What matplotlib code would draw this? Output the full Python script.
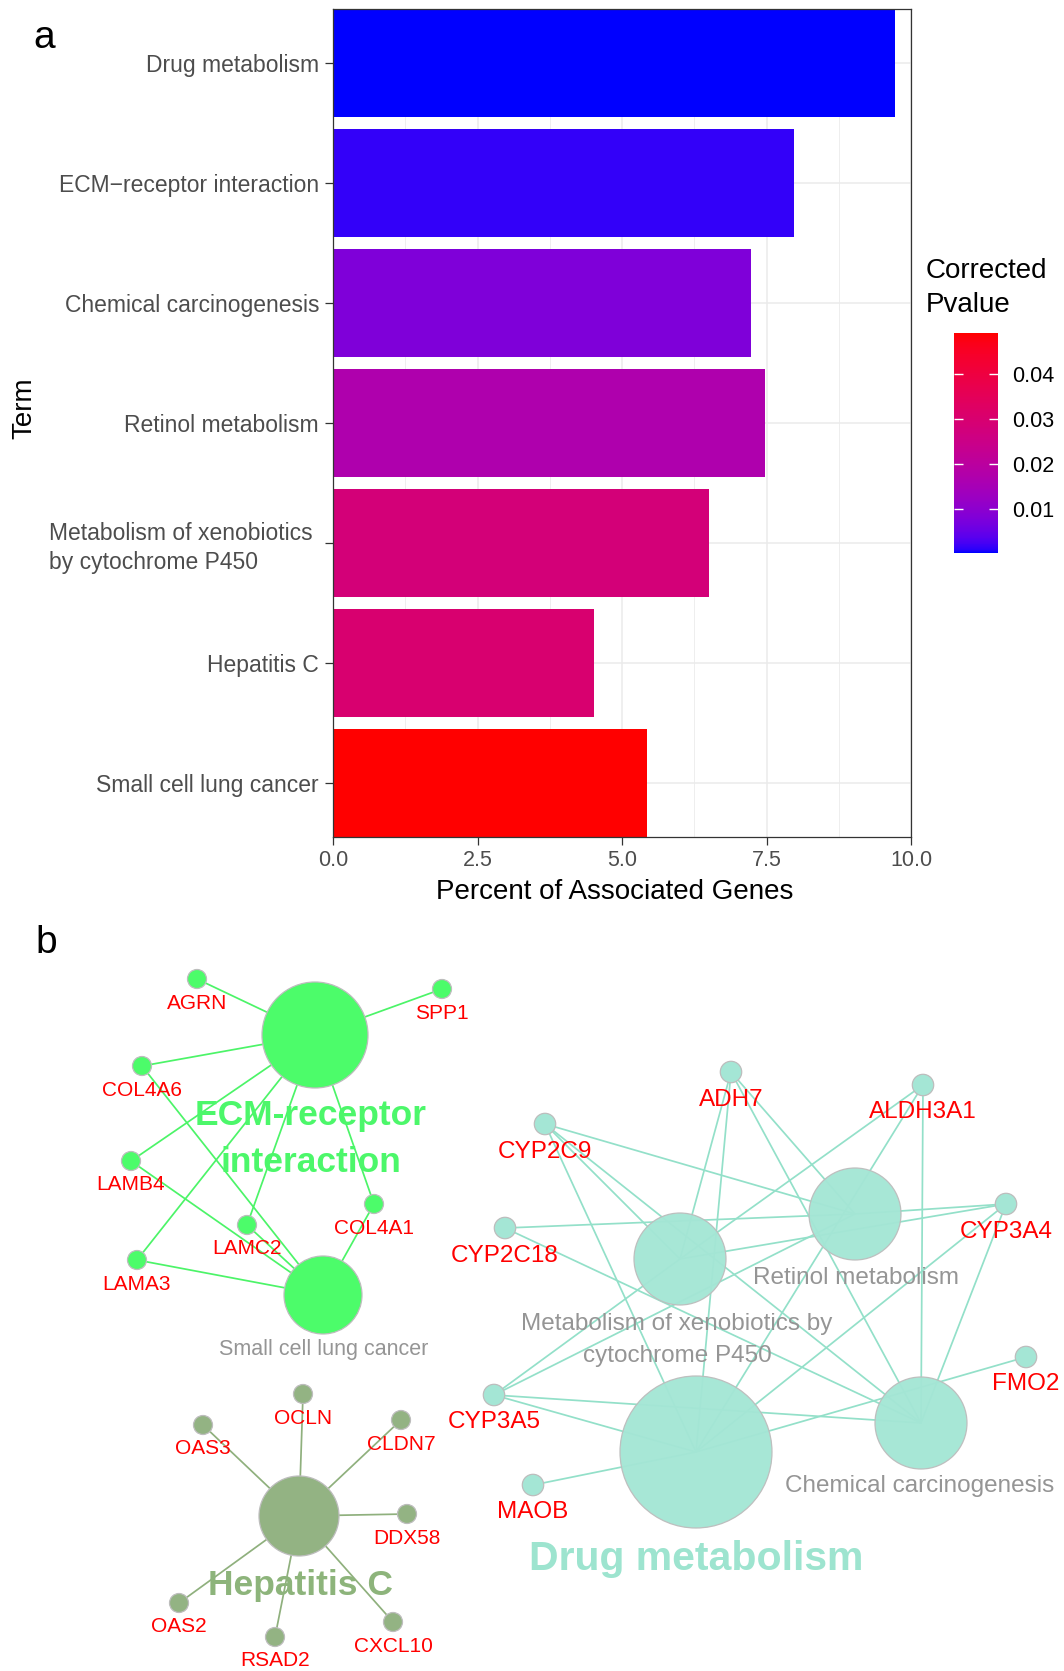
import numpy as np
import matplotlib
matplotlib.use("Agg")
import matplotlib.pyplot as plt
from matplotlib.colors import LinearSegmentedColormap, Normalize, to_rgb
from matplotlib.cm import ScalarMappable
from matplotlib.patches import Circle

plt.rcParams["font.family"] = ["Liberation Sans", "DejaVu Sans"]

# ---- panel a: KEGG enrichment ----
TERMS = [
    "Drug metabolism",
    "ECM\u2212receptor interaction",
    "Chemical carcinogenesis",
    "Retinol metabolism",
    "Metabolism of xenobiotics \nby cytochrome P450",
    "Hepatitis C",
    "Small cell lung cancer",
]
PERCENT = [9.73, 7.97, 7.24, 7.48, 6.50, 4.52, 5.44]
PVALUE = [0.00025, 0.0015, 0.0080, 0.0170, 0.0282, 0.0301, 0.0491]
X_TICKS = [0.0, 2.5, 5.0, 7.5, 10.0]
CBAR_TICKS = [0.01, 0.02, 0.03, 0.04]

# ---- panel b: term-gene network ----
ECM = "ECM-receptor interaction"
SCLC = "Small cell lung cancer"
HEP = "Hepatitis C"
DRUG = "Drug metabolism"
XENO = "Metabolism of xenobiotics by cytochrome P450"
RETINOL = "Retinol metabolism"
CHEM = "Chemical carcinogenesis"

MEMBERS = {
    ECM: ["AGRN", "SPP1", "COL4A6", "LAMB4", "LAMC2", "COL4A1", "LAMA3"],
    SCLC: ["COL4A6", "LAMB4", "LAMC2", "LAMA3", "COL4A1"],
    HEP: ["OCLN", "OAS3", "CLDN7", "DDX58", "OAS2", "RSAD2", "CXCL10"],
    DRUG: ["ADH7", "ALDH3A1", "CYP2C9", "CYP3A4", "CYP3A5", "FMO2", "MAOB"],
    XENO: ["ADH7", "ALDH3A1", "CYP2C9", "CYP3A4", "CYP3A5"],
    RETINOL: ["ADH7", "CYP2C9", "CYP2C18", "CYP3A4", "CYP3A5"],
    CHEM: ["ADH7", "ALDH3A1", "CYP2C9", "CYP2C18", "CYP3A4", "CYP3A5"],
}
CLUSTERS = {"ecm": [ECM, SCLC], "hep": [HEP], "drug": [DRUG, XENO, RETINOL, CHEM]}
LEADERS = {ECM: "ECM-receptor\ninteraction", HEP: "Hepatitis C", DRUG: "Drug metabolism"}

# node layout in figure pixels (x, y from top)
LAYOUT = {
    ECM: (315, 1035), SCLC: (323, 1295),
    "AGRN": (197, 979), "SPP1": (442, 989), "COL4A6": (142, 1066),
    "LAMB4": (131, 1161), "LAMC2": (247, 1225), "COL4A1": (374, 1204),
    "LAMA3": (137, 1260),
    HEP: (299, 1516),
    "OCLN": (303, 1394), "OAS3": (203, 1425), "CLDN7": (401, 1420),
    "DDX58": (407, 1514), "OAS2": (179, 1603), "RSAD2": (275, 1637),
    "CXCL10": (393, 1622),
    DRUG: (696, 1452), XENO: (680, 1259), RETINOL: (855, 1214), CHEM: (921, 1423),
    "ADH7": (731, 1072), "ALDH3A1": (923, 1085), "CYP2C9": (545, 1124),
    "CYP2C18": (505, 1228), "CYP3A4": (1006, 1204), "FMO2": (1026, 1357),
    "CYP3A5": (494, 1395), "MAOB": (533, 1485),
}
HUB_R = {ECM: 53, SCLC: 39, HEP: 40, DRUG: 76, XENO: 46, RETINOL: 46, CHEM: 46}
HUB_LABEL_POS = {
    ECM: (311, 1139), SCLC: (324, 1350), HEP: (300, 1586), DRUG: (696, 1559),
    XENO: (677, 1340), RETINOL: (856, 1278), CHEM: (920, 1486),
}
STYLE = {
    "ecm": dict(node="#4cfc6a", edge="#4cf468", label="#4cf76a", alpha=1.0,
                gene_r=9.5, gene_fs=15, bold_fs=25.5),
    "hep": dict(node="#93b383", edge="#8fb07d", label="#8db47b", alpha=1.0,
                gene_r=9.5, gene_fs=15, bold_fs=25.5),
    "drug": dict(node="#a4e6d5", edge="#93e0c9", label="#9de4cf", alpha=0.96,
                 gene_r=10.7, gene_fs=17.5, bold_fs=29.5),
}
GRAY_FS = {SCLC: 15.5, XENO: 17.5, RETINOL: 17.5, CHEM: 17.5}


def to_lab(hexcol):
    rgb = np.array(to_rgb(hexcol))
    lin = np.where(rgb <= 0.04045, rgb / 12.92, ((rgb + 0.055) / 1.055) ** 2.4)
    xyz = M_RGB2XYZ @ lin / WHITE
    f = np.where(xyz > 0.008856, np.cbrt(xyz), 7.787 * xyz + 16 / 116)
    return np.array([116 * f[1] - 16, 500 * (f[0] - f[1]), 200 * (f[1] - f[2])])


def from_lab(lab):
    fy = (lab[:, 0] + 16) / 116
    f = np.stack([fy + lab[:, 1] / 500, fy, fy - lab[:, 2] / 200], axis=1)
    xyz = np.where(f ** 3 > 0.008856, f ** 3, (f - 16 / 116) / 7.787) * WHITE
    lin = np.clip(xyz @ np.linalg.inv(M_RGB2XYZ).T, 0, 1)
    rgb = np.where(lin <= 0.0031308, 12.92 * lin, 1.055 * lin ** (1 / 2.4) - 0.055)
    return np.clip(rgb, 0, 1)


M_RGB2XYZ = np.array([[0.4124, 0.3576, 0.1805],
                      [0.2126, 0.7152, 0.0722],
                      [0.0193, 0.1192, 0.9505]])
WHITE = np.array([0.95047, 1.0, 1.08883])

# blue -> red gradient interpolated in Lab space (as ggplot's scale_fill_gradient)
t = np.linspace(0, 1, 256)[:, None]
lab_lo, lab_hi = to_lab("blue"), to_lab("red")
cmap = LinearSegmentedColormap.from_list("bluered", from_lab(lab_lo + t * (lab_hi - lab_lo)))
norm = Normalize(min(PVALUE), max(PVALUE))

W, H = 1064, 1671


def px_rect(x0, y0, x1, y1):
    return [x0 / W, 1 - y1 / H, (x1 - x0) / W, (y1 - y0) / H]


fig = plt.figure(figsize=(W / 100, H / 100), dpi=100)

# ---------------- panel a ----------------
ax = fig.add_axes(px_rect(333, 9, 911, 837))
ypos = np.arange(len(TERMS))
ax.barh(ypos, PERCENT, height=0.9, color=cmap(norm(PVALUE)), zorder=2)
ax.set_xlim(0, 10)
ax.set_ylim(len(TERMS) - 0.55, -0.45)
ax.set_yticks(ypos, TERMS)
ax.set_xticks(X_TICKS, [f"{v:.1f}" for v in X_TICKS])
ax.set_xticks([1.25, 3.75, 6.25, 8.75], minor=True)
ax.grid(which="major", color="#ebebeb", lw=1.1)
ax.grid(which="minor", axis="x", color="#ebebeb", lw=0.6)
ax.set_axisbelow(True)
ax.tick_params(which="minor", length=0)
ax.tick_params(which="major", length=6, width=0.9, color="#333333", labelcolor="#4d4d4d")
ax.tick_params(axis="y", labelsize=16.5, pad=4)
ax.tick_params(axis="x", labelsize=15.5, pad=3)
for lbl in ax.get_yticklabels():
    lbl.set_multialignment("left")
    lbl.set_linespacing(1.3)
for s in ax.spines.values():
    s.set_color("#333333")
    s.set_linewidth(0.9)
ax.set_xlabel("Percent of Associated Genes", fontsize=20, labelpad=6)
ax.xaxis.set_label_coords((615 - 333) / 578, -(892 - 837) / 828)
ax.xaxis.label.set_va("center")
ax.set_ylabel("Term", fontsize=20, va="center")
ax.yaxis.set_label_coords((24 - 333) / 578, (837 - 408) / 828)

cax = fig.add_axes(px_rect(954, 333, 998, 553))
cb = fig.colorbar(ScalarMappable(norm, cmap), cax=cax, ticks=CBAR_TICKS)
cb.outline.set_visible(False)
cb.set_ticklabels([f"{v:.2f}" for v in CBAR_TICKS])
cax.tick_params(left=True, right=True, direction="in", length=6.7, width=1,
                color="white", labelsize=15.5, labelcolor="black", pad=10)
fig.text(926 / W, 1 - 288 / H, "Corrected\nPvalue", fontsize=20, ha="left",
         va="center", linespacing=1.38)

fig.text(33 / W, 1 - 48 / H, "a", fontsize=28, ha="left", va="baseline")
fig.text(35 / W, 1 - 953 / H, "b", fontsize=28, ha="left", va="baseline")

# ---------------- panel b ----------------
nax = fig.add_axes([0, 0, 1, 1 - 870 / H])
nax.set_xlim(0, W)
nax.set_ylim(H, 870)
nax.axis("off")

for key, hubs in CLUSTERS.items():
    st = STYLE[key]
    genes = []
    for hub in hubs:
        hx, hy = LAYOUT[hub]
        for g in MEMBERS[hub]:
            gx, gy = LAYOUT[g]
            nax.plot([hx, gx], [hy, gy], color=st["edge"], lw=1.25, zorder=1,
                     solid_capstyle="round")
            if g not in genes:
                genes.append(g)
    for hub in hubs:
        nax.add_patch(Circle(LAYOUT[hub], HUB_R[hub], facecolor=st["node"],
                             edgecolor="#bdbdbd", lw=0.9, alpha=st["alpha"], zorder=2))
    for g in genes:
        gx, gy = LAYOUT[g]
        nax.add_patch(Circle((gx, gy), st["gene_r"], facecolor=st["node"],
                             edgecolor="#bdbdbd", lw=0.9, zorder=2))
        off = 24 if st["gene_fs"] < 16 else 27.5
        nax.text(gx, gy + off, g, color="#ff0000", fontsize=st["gene_fs"],
                 ha="center", va="center", zorder=4)
    for hub in hubs:
        lx, ly = HUB_LABEL_POS[hub]
        if hub in LEADERS:
            nax.text(lx, ly, LEADERS[hub], color=st["label"], fontsize=st["bold_fs"],
                     fontweight="bold", ha="center", va="center", linespacing=1.55,
                     zorder=5)
        else:
            text = hub.replace(" by ", " by\n") if hub == XENO else hub
            nax.text(lx, ly, text, color="#959595", fontsize=GRAY_FS[hub],
                     ha="center", va="center", linespacing=1.55, zorder=3)

fig.savefig("out.png", dpi=100)
